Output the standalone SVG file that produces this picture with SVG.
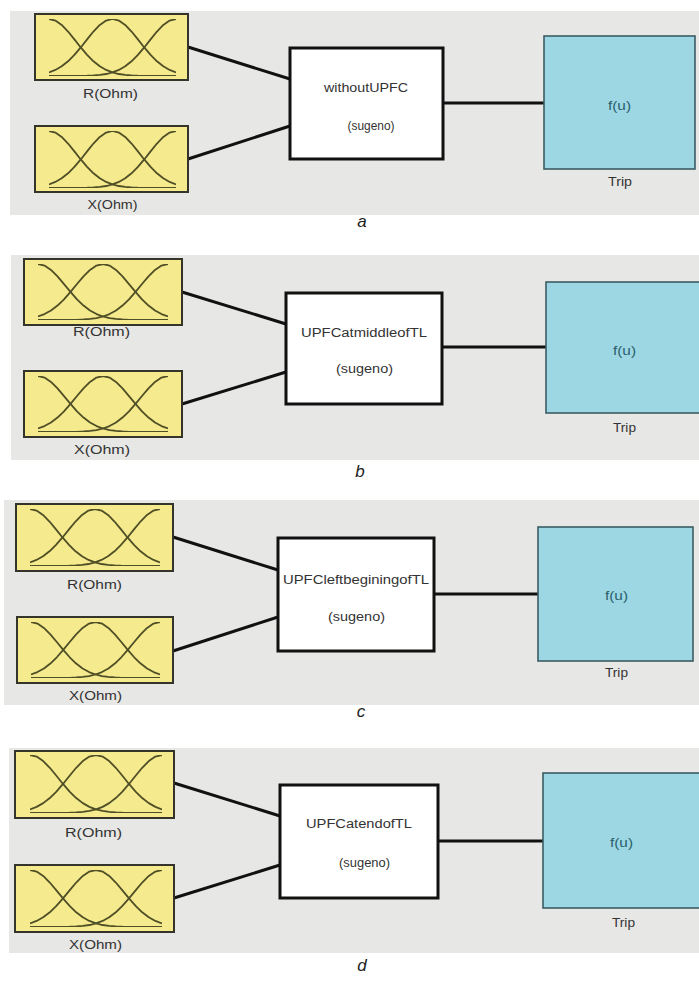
<svg xmlns="http://www.w3.org/2000/svg" xmlns:xlink="http://www.w3.org/1999/xlink" width="699" height="982" viewBox="0 0 699 982">
  <style>
    .panel { fill: #e7e7e5; }
    .mfbox { fill: #f6ea8e; stroke: #34342a; stroke-width: 2; }
    .curve { fill: none; stroke: #4f4f26; stroke-width: 1.8; stroke-linejoin: round; vector-effect: non-scaling-stroke; }
    .fis { fill: #ffffff; stroke: #111111; stroke-width: 3; }
    .out { fill: #9dd7e3; stroke: #3b5c63; stroke-width: 1.6; }
    .wire { fill: none; stroke: #111111; stroke-width: 3; }
    .lbl { font-family: "Liberation Sans", Arial, sans-serif; font-size: 12px; fill: #333333; text-anchor: middle; }
    .fn { font-family: "Liberation Sans", Arial, sans-serif; font-size: 12px; fill: #2a5f6c; text-anchor: middle; }
    .cap { font-family: "Liberation Sans", Arial, sans-serif; font-size: 17px; font-style: italic; fill: #222222; text-anchor: middle; }
  </style>
  <defs>
    <!-- three gaussian membership functions, unit box 100x100 -->
    <symbol id="mf" viewBox="0 0 100 100" preserveAspectRatio="none">
      <path class="curve" d="M0,0 L5,2.7 L10,10.5 L15,22 L20,35.8 L25,49.9 L30,63 L35,74.2 L40,83 L45,89.4 L50,93.7 L55,96.5 L60,98.1 L65,99.1 L70,99.6 L75,99.8 L80,99.9 L100,100"/>
      <path class="curve" d="M0,93.7 L5,89.4 L10,83 L15,74.2 L20,63 L25,49.9 L30,35.8 L35,22 L40,10.5 L45,2.7 L50,0 L55,2.7 L60,10.5 L65,22 L70,35.8 L75,49.9 L80,63 L85,74.2 L90,83 L95,89.4 L100,93.7"/>
      <path class="curve" d="M0,100 L20,99.9 L25,99.8 L30,99.6 L35,99.1 L40,98.1 L45,96.5 L50,93.7 L55,89.4 L60,83 L65,74.2 L70,63 L75,49.9 L80,35.8 L85,22 L90,10.5 L95,2.7 L100,0"/>
    </symbol>
  </defs>

  <!-- panel backgrounds -->
  <rect class="panel" x="10" y="11" width="689" height="204"/>
  <rect class="panel" x="11" y="255" width="688" height="205"/>
  <rect class="panel" x="4" y="500" width="695" height="205"/>
  <rect class="panel" x="9" y="748" width="690" height="205"/>

  <!-- connectors -->
  <g id="connectors">
    <path class="wire" d="M188,47 L290,79"/>
    <path class="wire" d="M188,159 L290,126"/>
    <path class="wire" d="M443,103 L544,103"/>

    <path class="wire" d="M182,292 L286,324"/>
    <path class="wire" d="M182,404 L286,372"/>
    <path class="wire" d="M442,347 L546,347"/>

    <path class="wire" d="M173,537 L278,570"/>
    <path class="wire" d="M173,651 L278,617"/>
    <path class="wire" d="M434,594 L538,594"/>

    <path class="wire" d="M174,783 L280,816"/>
    <path class="wire" d="M174,898 L280,865"/>
    <path class="wire" d="M438,841 L543,841"/>
  </g>

  <!-- panel a -->
  <g id="a-R">
    <rect class="mfbox" x="35" y="14" width="153" height="66"/>
    <use xlink:href="#mf" href="#mf" x="49" y="19" width="127" height="57"/>
    <text class="lbl" x="110.5" y="98" textLength="55" lengthAdjust="spacingAndGlyphs">R(Ohm)</text>
  </g>
  <g id="a-X">
    <rect class="mfbox" x="35" y="126" width="153" height="66"/>
    <use xlink:href="#mf" href="#mf" x="49" y="131" width="127" height="57"/>
    <text class="lbl" x="112.5" y="209" textLength="50" lengthAdjust="spacingAndGlyphs">X(Ohm)</text>
  </g>
  <g id="a-fis">
    <rect class="fis" x="290" y="48" width="153" height="111"/>
    <text class="lbl" x="366" y="92" textLength="84" lengthAdjust="spacingAndGlyphs">withoutUPFC</text>
    <text class="lbl" x="371" y="130" textLength="47" lengthAdjust="spacingAndGlyphs">(sugeno)</text>
  </g>
  <g id="a-trip">
    <rect class="out" x="544" y="36" width="151" height="133"/>
    <text class="fn" x="619.5" y="110" textLength="23" lengthAdjust="spacingAndGlyphs">f(u)</text>
    <text class="lbl" x="620" y="186" textLength="24" lengthAdjust="spacingAndGlyphs">Trip</text>
  </g>
  <text class="cap" x="362" y="227">a</text>

  <!-- panel b -->
  <g id="b-R">
    <rect class="mfbox" x="24" y="259" width="158" height="66"/>
    <use xlink:href="#mf" href="#mf" x="38" y="264" width="130" height="56"/>
    <text class="lbl" x="101.5" y="336" textLength="57" lengthAdjust="spacingAndGlyphs">R(Ohm)</text>
  </g>
  <g id="b-X">
    <rect class="mfbox" x="24" y="371" width="158" height="66"/>
    <use xlink:href="#mf" href="#mf" x="38" y="376" width="130" height="56"/>
    <text class="lbl" x="102" y="454" textLength="56" lengthAdjust="spacingAndGlyphs">X(Ohm)</text>
  </g>
  <g id="b-fis">
    <rect class="fis" x="286" y="293" width="156" height="111"/>
    <text class="lbl" x="364" y="337" textLength="126" lengthAdjust="spacingAndGlyphs">UPFCatmiddleofTL</text>
    <text class="lbl" x="364.5" y="373" textLength="57" lengthAdjust="spacingAndGlyphs">(sugeno)</text>
  </g>
  <g id="b-trip">
    <rect class="out" x="546" y="282" width="160" height="131"/>
    <text class="fn" x="624.5" y="355" textLength="23" lengthAdjust="spacingAndGlyphs">f(u)</text>
    <text class="lbl" x="624.5" y="432" textLength="23" lengthAdjust="spacingAndGlyphs">Trip</text>
  </g>
  <text class="cap" x="360" y="477">b</text>

  <!-- panel c -->
  <g id="c-R">
    <rect class="mfbox" x="16" y="504" width="157" height="67"/>
    <use xlink:href="#mf" href="#mf" x="30" y="509" width="130" height="57"/>
    <text class="lbl" x="94.5" y="589" textLength="55" lengthAdjust="spacingAndGlyphs">R(Ohm)</text>
  </g>
  <g id="c-X">
    <rect class="mfbox" x="17" y="617" width="156" height="66"/>
    <use xlink:href="#mf" href="#mf" x="31" y="622" width="129" height="56"/>
    <text class="lbl" x="95.5" y="700" textLength="53" lengthAdjust="spacingAndGlyphs">X(Ohm)</text>
  </g>
  <g id="c-fis">
    <rect class="fis" x="278" y="538" width="156" height="113"/>
    <text class="lbl" x="356" y="584" textLength="146" lengthAdjust="spacingAndGlyphs">UPFCleftbeginingofTL</text>
    <text class="lbl" x="356.5" y="621" textLength="57" lengthAdjust="spacingAndGlyphs">(sugeno)</text>
  </g>
  <g id="c-trip">
    <rect class="out" x="538" y="527" width="155" height="134"/>
    <text class="fn" x="616.5" y="600" textLength="23" lengthAdjust="spacingAndGlyphs">f(u)</text>
    <text class="lbl" x="616.5" y="677" textLength="23" lengthAdjust="spacingAndGlyphs">Trip</text>
  </g>
  <text class="cap" x="361" y="717">c</text>

  <!-- panel d -->
  <g id="d-R">
    <rect class="mfbox" x="15" y="751" width="159" height="67"/>
    <use xlink:href="#mf" href="#mf" x="30" y="755" width="132" height="58"/>
    <text class="lbl" x="93.5" y="837" textLength="57" lengthAdjust="spacingAndGlyphs">R(Ohm)</text>
  </g>
  <g id="d-X">
    <rect class="mfbox" x="15" y="865" width="159" height="67"/>
    <use xlink:href="#mf" href="#mf" x="30" y="870" width="132" height="57"/>
    <text class="lbl" x="95.5" y="949" textLength="53" lengthAdjust="spacingAndGlyphs">X(Ohm)</text>
  </g>
  <g id="d-fis">
    <rect class="fis" x="280" y="785" width="158" height="113"/>
    <text class="lbl" x="359" y="828" textLength="106" lengthAdjust="spacingAndGlyphs">UPFCatendofTL</text>
    <text class="lbl" x="364.5" y="867" textLength="51" lengthAdjust="spacingAndGlyphs">(sugeno)</text>
  </g>
  <g id="d-trip">
    <rect class="out" x="543" y="773" width="163" height="135"/>
    <text class="fn" x="621.5" y="847" textLength="23" lengthAdjust="spacingAndGlyphs">f(u)</text>
    <text class="lbl" x="623.5" y="927" textLength="23" lengthAdjust="spacingAndGlyphs">Trip</text>
  </g>
  <text class="cap" x="362" y="971">d</text>
</svg>
